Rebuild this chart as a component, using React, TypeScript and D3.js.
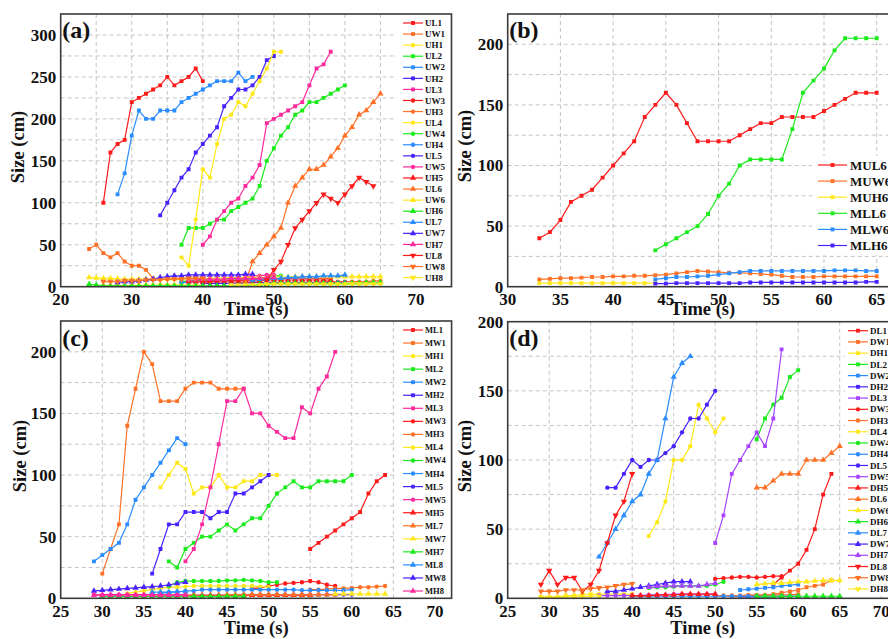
import React from "react";
import * as d3 from "d3";

const FONT = "'Liberation Serif', 'Times New Roman', Times, serif";

const palette = ["#ff1a1a", "#ff7126", "#ffe81a", "#1aeb1a", "#2a8cff", "#4a22ff", "#ff2a9d"];
const paletteD = ["#ff1a1a", "#ff7126", "#ffe81a", "#1aeb1a", "#2a8cff", "#4a22ff", "#a845ff"];

// ---- panel (a)
const namesA = ["UL1", "UW1", "UH1", "UL2", "UW2", "UH2", "UL3", "UW3", "UH3", "UL4", "UW4", "UH4",
  "UL5", "UW5", "UH5", "UL6", "UW6", "UH6", "UL7", "UW7", "UH7", "UL8", "UW8", "UH8"];
const startA = [26, 24, 26, 37, 28, 34, 40, 37, 40, 37, 37, 37, 40, 46, 38, 46, 24, 24, 47, 28, 38, 49, 26, 44];
const valuesA = [
  [100, 160, 170, 175, 220, 225, 230, 235, 240, 250, 240, 245, 250, 260, 245],
  [45, 50, 40, 35, 40, 30, 25, 25, 20, 10, 9, 9, 9, 10, 10, 10, 10],
  [1, 1, 1, 1, 1.5, 1.5, 1.5, 1.5, 2, 2, 2, 2, 2, 2, 2],
  [50, 70, 70, 70, 75, 80, 80, 90, 95, 100, 105, 120, 150, 165, 180, 190, 205, 210, 220, 220, 225, 230, 235, 240],
  [110, 135, 180, 210, 200, 200, 210, 210, 210, 220, 225, 230, 235, 240, 245, 245, 245, 255, 245, 250],
  [85, 100, 115, 130, 140, 160, 170, 180, 190, 215, 225, 235, 235, 240, 250, 270, 275],
  [50, 60, 80, 90, 100, 105, 120, 130, 145, 195, 200, 205, 210, 215, 220, 240, 260, 265, 280],
  [6, 6, 7, 7, 7, 8, 8, 8, 8, 9, 9, 9, 9, 9, 10, 10, 10, 10, 10, 10, 10, 10],
  [4, 4, 4, 4, 4, 4, 5, 5, 5, 5, 5, 5, 5, 5, 5, 5, 5, 6, 6, 6, 6, 6, 6, 6, 7, 7],
  [35, 25, 80, 140, 130, 170, 200, 205, 220, 215, 230, 245, 260, 280, 280],
  [6, 7, 8, 8, 8, 8, 9, 9, 9, 9, 9, 10, 11, 13, 13],
  [5, 5, 6, 6, 6, 7, 7, 7, 8, 8, 8],
  [4, 4, 4, 4, 4, 4, 4, 5, 5, 5, 5, 5, 5, 5, 5, 5, 5, 5, 5, 5, 5],
  [12, 13, 13, 14, 14],
  [6, 6, 6, 6, 7, 7, 7, 7, 7, 7, 7, 8, 8, 8, 8, 8, 8, 8, 8, 8, 8],
  [5, 30, 40, 50, 60, 70, 100, 120, 130, 140, 140, 145, 155, 165, 180, 190, 205, 210, 220, 230],
  [11, 10.5, 10, 10, 9.5, 9, 9, 9, 9, 9, 9, 9.5, 9.5, 10, 10, 10, 10, 10, 10.5, 10.5, 10.5, 11, 11, 11, 11,
    11, 11.5, 11.5, 11.5, 12, 12, 12, 12, 12, 12, 12, 12, 12, 12, 12, 12, 12],
  [3, 2, 1, 1, 1, 1, 1, 1, 1, 1, 1, 1, 1, 1, 1, 1, 1, 1, 1, 1, 1, 1, 1, 2, 3, 3, 4, 4, 4, 4,
    4, 4, 4, 4, 4, 4, 4, 4, 4, 5, 5, 5],
  [8, 9, 9, 10, 10, 11, 11, 12, 12, 12, 13, 13, 13, 14],
  [5, 6, 6, 7, 8, 9, 11, 12, 13, 13, 14, 14, 14, 14, 14, 14, 14, 14, 15, 15],
  [8, 8, 9, 9, 9, 9, 10, 10, 10, 10, 10, 11, 11],
  [8, 20, 30, 50, 70, 80, 90, 100, 110, 105, 100, 110, 120, 130, 125, 120],
  [6, 6, 6, 7, 7, 7, 8, 8, 8, 9, 9, 9, 10, 10, 10],
  [2, 2, 2, 2, 2, 3, 3, 3, 3, 3, 3, 3, 3, 3, 3, 3, 3, 3, 3, 3, 3, 3],
];

// ---- panel (b)
const namesB = ["MUL6", "MUW6", "MUH6", "MLL6", "MLW6", "MLH6"];
const startB = [33, 33, 33, 44, 44, 44];
const valuesB = [
  [40, 45, 55, 70, 75, 80, 90, 100, 110, 120, 140, 150, 160, 150, 135, 120, 120, 120, 120, 125, 130, 135,
    135, 140, 140, 140, 140, 145, 150, 155, 160, 160, 160],
  [6, 6.5, 7, 7, 7.5, 8, 8, 8.5, 8.5, 9, 9, 9.5, 10, 11, 12, 13, 12.5, 12, 11.5, 11.5, 11, 10.5, 10, 9, 8,
    8, 8, 8.5, 8.5, 8.5, 8.5, 8.5, 8.5],
  [3, 3, 3, 3, 3, 3, 3, 3, 3, 3, 3, 3],
  [30, 35, 40, 45, 50, 60, 75, 85, 100, 105, 105, 105, 105, 130, 160, 170, 180, 195, 205, 205, 205, 205],
  [6, 7, 8, 8, 8.5, 9, 10, 11, 12, 13, 13, 13, 13, 13, 13, 13, 13, 13.5, 13.5, 13.5, 13, 13],
  [2.5, 2.5, 3, 3, 3, 3, 3, 3, 3, 3.5, 3.5, 3.5, 3.5, 3.5, 3.5, 3.5, 3.5, 3.5, 3.5, 3.5, 4, 4],
];

// ---- panel (c)
const namesC = ["ML1", "MW1", "MH1", "ML2", "MW2", "MH2", "ML3", "MW3", "MH3", "ML4", "MW4", "MH4",
  "ML5", "MW5", "MH5", "ML7", "MW7", "MH7", "ML8", "MW8", "MH8"];
const startC = [55, 30, 37, 38, 29, 36, 40, 48, 55, 33, 38, 37, 47, 29, 40, 45, 58, 30, 36, 29, 29];
const valuesC = [
  [40, 45, 50, 55, 60, 65, 70, 85, 95, 100],
  [20, 40, 60, 140, 170, 200, 190, 160, 160, 160, 170, 175, 175, 175, 170, 170, 170, 170],
  [90, 100, 110, 105, 85, 90, 90, 100, 90, 90, 95, 95, 100, 100, 100],
  [30, 25, 40, 45, 50, 50, 55, 60, 55, 60, 65, 65, 75, 85, 90, 95, 90, 90, 95, 95, 95, 95, 100],
  [30, 35, 40, 45, 60, 80, 90, 100, 110, 120, 130, 125],
  [20, 40, 60, 60, 70, 70, 70, 65, 70, 70, 85, 85, 90, 95, 100],
  [30, 40, 60, 90, 125, 160, 160, 170, 150, 150, 140, 135, 130, 130, 155, 150, 170, 180, 200],
  [8, 8.5, 10, 11, 12, 12.5, 13, 14, 13, 11, 10],
  [7, 7, 7.5, 8, 8, 8.5, 9, 9, 9.5, 10],
  [4, 5, 6, 7, 8, 9, 9, 9.5, 10, 10, 10, 10, 10, 10, 10, 10, 9.5, 9],
  [10, 13, 14, 14, 14, 14, 14, 14.5, 14.5, 15, 14.5, 14, 13, 13],
  [4, 5, 5, 6, 6, 7, 7, 7, 7, 7, 7, 7, 7, 7, 7, 7, 7, 6.5, 6.5, 6.5, 6.5, 6.5, 6.5, 7],
  [3, 3, 3, 3, 3, 3, 3, 3, 3, 3, 3, 3, 3, 3],
  [3, 3, 3, 3, 3, 3, 3, 3, 3, 3, 3, 3],
  [2.5, 2.5, 2.5, 2.5, 2.5, 2.5, 2.5, 2.5, 2.5, 2.5, 2.5, 2.5, 2.5, 2.5, 2.5, 2.5],
  [3, 3, 3, 3, 3, 3, 3, 3, 3, 3, 3, 3, 3, 3],
  [3.5, 3.5, 3.5, 3.5, 3.5, 3.5, 3.5],
  [1.5, 1.5, 1.5, 1.5, 1.5, 1.5, 1.5, 1.5, 1.5, 1.5, 1.5, 1.5, 1.5, 1.5, 1.5, 1.5, 1.5, 1.5],
  [5, 5, 5, 5.5, 5.5],
  [6, 6.5, 7, 7.5, 8, 8.5, 9, 9.5, 10, 11, 12, 13],
  [2.5, 2.5, 2.5, 2.5, 2.5, 2.5, 2.5, 2.5, 2.5, 2.5, 2.5, 2.5],
];

// ---- panel (d)
const namesD = ["DL1", "DW1", "DH1", "DL2", "DW2", "DH2", "DL3", "DW3", "DH3", "DL4", "DW4", "DH4",
  "DL5", "DW5", "DH5", "DL6", "DW6", "DH6", "DL7", "DW7", "DH7", "DL8", "DW8", "DH8"];
const startD = [57, 52, 29, 55, 53, 53, 50, 50, 50, 42, 42, 40, 37, 36, 40, 55, 55, 55, 36, 37, 42, 29, 29, 29];
const valuesD = [
  [10, 15, 20, 25, 35, 50, 75, 90],
  [1, 1, 1.5, 2, 2, 3, 4, 5, 6, 8, 9, 10, 13],
  [1, 1, 1, 2, 2, 3, 3, 3, 3, 3, 3, 3],
  [115, 130, 140, 145, 160, 165],
  [6, 6.5, 7, 7.5, 8, 9, 9.5, 10],
  [1, 1, 1, 1, 1, 1.5, 1.5, 1.5],
  [40, 60, 90, 100, 110, 120, 110, 130, 180],
  [14, 14.5, 15, 15.5, 15.5, 15, 15.5, 16, 16],
  [2, 2, 2, 2, 2.5, 2.5, 2.5, 2.5, 2.5, 2.5, 3],
  [45, 55, 70, 100, 100, 110, 140, 130, 120, 130],
  [7.5, 8, 8, 8.5, 9, 9, 9, 9, 10, 12],
  [1.5, 1.5, 1.5, 1.5, 1.5, 1.5, 1.5, 1.5, 1.5, 1.5, 1.5, 1.5, 1.5, 1.5, 1.5, 1.5, 1.5, 1.5, 1.5, 1.5, 1.5],
  [80, 80, 90, 100, 95, 100, 100, 105, 110, 120, 130, 130, 140, 150],
  [2, 2, 2, 2, 2, 2, 2.5, 2.5, 2.5, 3, 3, 3, 3, 3, 3],
  [2, 2, 2, 2.5, 2.5, 2.5, 3, 3, 3, 3, 3],
  [80, 80, 85, 90, 90, 90, 100, 100, 100, 105, 110],
  [10, 10.5, 11, 11, 11.5, 12, 12, 12.5, 13, 13, 13],
  [1.5, 1.5, 1.5, 1.5, 1.5, 1.5, 1.5, 1.5, 1.5, 1.5, 1.5],
  [30, 40, 50, 60, 70, 75, 90, 100, 130, 160, 170, 175],
  [5, 5, 6, 7, 8, 9, 10, 11, 12, 12, 12],
  [8, 8.5, 9, 9, 9, 9, 9, 10, 11],
  [10, 20, 10, 15, 15, 5, 10, 20, 40, 60, 70, 90],
  [5, 5, 5, 6, 6, 6, 7, 7.5, 8, 9, 10, 10.5],
  [0.5, 0.5, 0.5, 1, 1, 1, 1.5, 1.5],
];

const xTicksA = [20, 30, 40, 50, 60, 70];
const yTicksA = [0, 50, 100, 150, 200, 250, 300];
const xTicksB = [30, 35, 40, 45, 50, 55, 60, 65];
const yTicksB = [0, 50, 100, 150, 200];
const xTicksCD = [25, 30, 35, 40, 45, 50, 55, 60, 65, 70];
const yTicksCD = [0, 50, 100, 150, 200];

const SHAPES = ["square", "circle", "up", "down"];

function buildSeries(names, starts, values, colors) {
  return names.map((name, i) => ({
    name,
    color: colors[i % 7],
    shape: SHAPES[Math.floor(i / 7)],
    pts: values[i].map((v, j) => [starts[i] + j, v]),
  }));
}

function marker(shape) {
  if (shape === "square") return d3.symbol().type(d3.symbolSquare).size(15)();
  if (shape === "circle") return d3.symbol().type(d3.symbolCircle).size(15)();
  return d3.symbol().type(d3.symbolTriangle).size(17)();
}

const panels = [
  {
    id: "a", label: "(a)", left: 60.7, right: 451.5, top: 14, bottom: 286.7,
    xd: [20, 75], yd: [0, 325], xTicks: xTicksA, yTicks: yTicksA,
    series: buildSeries(namesA, startA, valuesA, palette),
    tickBase: 305, titleBase: 315, yTitleX: 24, yTitleY: 147, letterBase: 38,
    legend: { bx: 397, by0: 15, by1: 283, lx0: 403, lx1: 423, tx: 425, y0: 23, step: 11.07, fs: 9 },
  },
  {
    id: "b", label: "(b)", left: 507.7, right: 897.8, top: 14, bottom: 286.7,
    xd: [30, 67], yd: [0, 225], xTicks: xTicksB, yTicks: yTicksB,
    series: buildSeries(namesB, startB, valuesB, palette).map((s) => ({ ...s, shape: "square" })),
    tickBase: 305, titleBase: 315, yTitleX: 471, yTitleY: 146, letterBase: 38,
    legend: { bx: 812, by0: 156, by1: 255, lx0: 818, lx1: 847, tx: 850, y0: 165, step: 16.1, fs: 13 },
  },
  {
    id: "c", label: "(c)", left: 60.7, right: 451.6, top: 321, bottom: 598.3,
    xd: [25, 72], yd: [0, 225], xTicks: xTicksCD, yTicks: yTicksCD,
    series: buildSeries(namesC, startC, valuesC, palette),
    tickBase: 617, titleBase: 634, yTitleX: 25.5, yTitleY: 456, letterBase: 346,
    legend: { bx: 397, by0: 322, by1: 596, lx0: 403, lx1: 423, tx: 425, y0: 330, step: 13.05, fs: 8.5 },
  },
  {
    id: "d", label: "(d)", left: 507.7, right: 897.8, top: 321.7, bottom: 598.3,
    xd: [25, 72], yd: [0, 200], xTicks: xTicksCD, yTicks: yTicksCD,
    series: buildSeries(namesD, startD, valuesD, paletteD),
    tickBase: 617, titleBase: 634, yTitleX: 471, yTitleY: 456, letterBase: 346,
    legend: { bx: 845, by0: 322, by1: 596, lx0: 848, lx1: 868, tx: 870, y0: 330.7, step: 11.23, fs: 9 },
  },
];

function Panel({ p }) {
  const x = d3.scaleLinear().domain(p.xd).range([p.left, p.right]);
  const y = d3.scaleLinear().domain(p.yd).range([p.bottom, p.top]);
  const line = d3.line().x((d) => x(d[0])).y((d) => y(d[1]));
  const gx = d3.range(Math.ceil(p.xd[0] / 5) * 5 + 5, p.xd[1], 5);
  const gy = d3.range(25, p.yd[1], 25);
  const L = p.legend;
  const lm = (L.lx0 + L.lx1) / 2;
  return (
    <g>
      <clipPath id={"clip" + p.id}>
        <rect x={p.left} y={p.top} width={p.right - p.left} height={p.bottom - p.top} />
      </clipPath>
      <g stroke="#b5b5b5" strokeWidth={0.8} strokeDasharray="4,3">
        {gx.map((v) => (
          <line key={"gx" + v} x1={x(v)} x2={x(v)} y1={p.top} y2={p.bottom} />
        ))}
        {gy.map((v) => (
          <line key={"gy" + v} x1={p.left} x2={p.right} y1={y(v)} y2={y(v)} />
        ))}
      </g>
      <g clipPath={`url(#clip${p.id})`}>
        {p.series.map((s) => (
          <g key={s.name}>
            <path d={line(s.pts)} fill="none" stroke={s.color} strokeWidth={1.2} />
            {s.pts.map((d, j) => (
              <path key={j} d={marker(s.shape)} fill={s.color}
                transform={`translate(${x(d[0])},${y(d[1])})${s.shape === "down" ? " rotate(180)" : ""}`} />
            ))}
          </g>
        ))}
      </g>
      <rect x={L.bx} y={L.by0} width={p.right - L.bx - 1} height={L.by1 - L.by0} fill="#fff" />
      {p.series.map((s, i) => {
        const ly = L.y0 + i * L.step;
        return (
          <g key={"lg" + s.name}>
            <line x1={L.lx0} x2={L.lx1} y1={ly} y2={ly} stroke={s.color} strokeWidth={1.2} />
            <path d={marker(s.shape)} fill={s.color}
              transform={`translate(${lm},${ly})${s.shape === "down" ? " rotate(180)" : ""}`} />
            <text x={L.tx} y={ly} dy="0.35em" fontSize={L.fs} fontWeight="bold" fontFamily={FONT} fill="#111">
              {s.name}
            </text>
          </g>
        );
      })}
      <rect x={p.left} y={p.top} width={p.right - p.left} height={p.bottom - p.top}
        fill="none" stroke="#3a3a3a" strokeWidth={1.6} />
      <g fontFamily={FONT} fontWeight="bold" fontSize={17} fill="#111">
        {p.xTicks.map((v) => (
          <text key={"xt" + v} x={x(v)} y={p.tickBase} textAnchor="middle">{v}</text>
        ))}
        {p.yTicks.map((v) => (
          <text key={"yt" + v} x={p.left - 4.5} y={y(v)} dy="0.35em" textAnchor="end">{v}</text>
        ))}
      </g>
      <text x={(p.left + p.right) / 2} y={p.titleBase} textAnchor="middle" fontFamily={FONT}
        fontWeight="bold" fontSize={18.5} fill="#111">Time (s)</text>
      <text transform={`translate(${p.yTitleX},${p.yTitleY}) rotate(-90)`} textAnchor="middle"
        fontFamily={FONT} fontWeight="bold" fontSize={18.5} fill="#111">Size (cm)</text>
      <text x={p.left + 1.5} y={p.letterBase} fontFamily={FONT} fontWeight="bold" fontSize={24} fill="#111">
        {p.label}
      </text>
    </g>
  );
}

export default function App() {
  return (
    <svg width={888} height={639} style={{ position: "absolute", left: 0, top: 0, background: "#fff" }}>
      <rect width={888} height={639} fill="#fff" />
      {panels.map((p) => (
        <Panel key={p.id} p={p} />
      ))}
    </svg>
  );
}
